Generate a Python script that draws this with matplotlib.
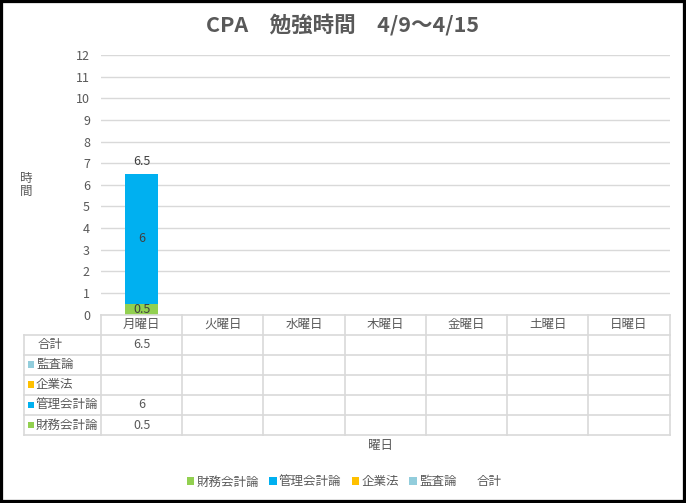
import numpy as np
import matplotlib
matplotlib.use("Agg")
import matplotlib.pyplot as plt
import matplotlib.transforms as mtransforms
from matplotlib.patches import Patch, Rectangle
from matplotlib.lines import Line2D

plt.rcParams['font.family'] = ['Noto Sans CJK JP', 'DejaVu Sans']

# data
days = ['月曜日', '火曜日', '水曜日', '木曜日', '金曜日', '土曜日', '日曜日']
zaimu = [0.5, None, None, None, None, None, None]      # 財務会計論
kanri = [6, None, None, None, None, None, None]        # 管理会計論
kigyo = [None, None, None, None, None, None, None]     # 企業法
kansa = [None, None, None, None, None, None, None]     # 監査論
total = [6.5, None, None, None, None, None, None]      # 合計

series_names = ['財務会計論', '管理会計論', '企業法', '監査論']
series_vals = [zaimu, kanri, kigyo, kansa]
colors = ['#92D050', '#00B0F0', '#FFC000', '#92CDDC']
txt = '#595959'
grid = '#D9D9D9'
fs = 9

W, H = 686, 503
fig = plt.figure(figsize=(W / 100, H / 100), dpi=100)

def fx(px):
    return px / W

def fy(py):
    return 1 - py / H

ax_l, ax_r, ax_t, ax_b = 101, 669.5, 55, 314.7
ax = fig.add_axes([fx(ax_l), fy(ax_b), fx(ax_r - ax_l), (ax_b - ax_t) / H])

x = np.arange(len(days))
bottom = np.zeros(len(days))
for name, vals, c in zip(series_names, series_vals, colors):
    v = np.array([np.nan if a is None else a for a in vals], dtype=float)
    ax.bar(x, v, 0.4, bottom=bottom, color=c, zorder=3)
    for xi, vi, bi in zip(x, v, bottom):
        if not np.isnan(vi):
            ax.text(xi, bi + vi / 2, f'{vi:g}', ha='center', va='center',
                    fontsize=fs, color='#404040', zorder=4)
    bottom = bottom + np.nan_to_num(v)

tot = np.array([np.nan if a is None else a for a in total], dtype=float)
for xi, ti in zip(x, tot):
    if not np.isnan(ti):
        ax.annotate(f'{ti:g}', (xi, ti), xytext=(0, 4.5), textcoords='offset points',
                    ha='center', va='bottom', fontsize=fs, color='#404040')

ax.set_xlim(-0.5, len(days) - 0.5)
ax.set_ylim(0, 12)
ax.set_yticks(range(0, 13))
ax.yaxis.grid(True, color=grid, linewidth=1, zorder=0)
ax.set_xticks([])
ax.tick_params(axis='y', length=0, pad=8, labelsize=fs, labelcolor=txt)
for s in ax.spines.values():
    s.set_visible(False)

# data table
bt = mtransforms.blended_transform_factory(ax.transData, fig.transFigure)
rows_y = [314.7, 334.5, 354.5, 374.6, 394.7, 415.0, 435.2]
tab_left = 24
lk = dict(color=grid, linewidth=1.2, clip_on=False)
for i, ry in enumerate(rows_y):
    xs = ax_l if i == 0 else tab_left
    fig.add_artist(Line2D([fx(xs), fx(ax_r)], [fy(ry), fy(ry)], **lk))
for i in range(len(days) + 1):
    fig.add_artist(Line2D([i - 0.5, i - 0.5], [fy(rows_y[0]), fy(rows_y[-1])],
                          transform=bt, **lk))
fig.add_artist(Line2D([fx(tab_left), fx(tab_left)], [fy(rows_y[1]), fy(rows_y[-1])], **lk))

for xi, d in zip(x, days):
    fig.text(xi, fy((rows_y[0] + rows_y[1]) / 2), d, transform=bt,
             ha='center', va='center', fontsize=fs, color=txt)

table_rows = [('合計', None, total)] + [
    (n, c, v) for n, c, v in reversed(list(zip(series_names, colors, series_vals)))]
for r, (name, c, vals) in enumerate(table_rows):
    yc = fy((rows_y[r + 1] + rows_y[r + 2]) / 2)
    if c is None:
        fig.text(fx(38), yc, name, ha='left', va='center', fontsize=fs, color=txt)
    else:
        fig.add_artist(Rectangle((fx(27.5), yc - 3.3 / H), 6.5 / W, 6.5 / H,
                                 facecolor=c, edgecolor='none'))
        fig.text(fx(36), yc, name, ha='left', va='center', fontsize=fs, color=txt)
    for xi, vi in zip(x, vals):
        if vi is not None:
            fig.text(xi, yc, f'{vi:g}', transform=bt, ha='center', va='center',
                     fontsize=fs, color=txt)

# titles
fig.text(fx(343), fy(25), 'CPA\u3000勉強時間\u30004/9～4/15', ha='center', va='center',
         fontsize=15.5, fontweight='bold', color=txt)
fig.text(fx(26), fy(185), '時\n間', ha='center', va='center', fontsize=fs,
         color=txt, linespacing=1.0)
fig.text(fx(380), fy(445), '曜日', ha='center', va='center', fontsize=fs, color=txt)

# legend
handles = [Patch(facecolor=c, edgecolor='none') for c in colors]
handles.append(Patch(facecolor='none', edgecolor='none'))
leg = fig.legend(handles, series_names + ['合計'], loc='center', ncol=5,
                 bbox_to_anchor=(fx(344), fy(482)), frameon=False, fontsize=fs,
                 handlelength=0.6, handleheight=0.6, handletextpad=0.2,
                 columnspacing=0.8)
for t in leg.get_texts():
    t.set_color(txt)

# outer frame
fig.add_artist(Rectangle((0, 0), 1, 1, transform=fig.transFigure, fill=False,
                         edgecolor='black', linewidth=4.5))

fig.savefig('out.png', dpi=100)
